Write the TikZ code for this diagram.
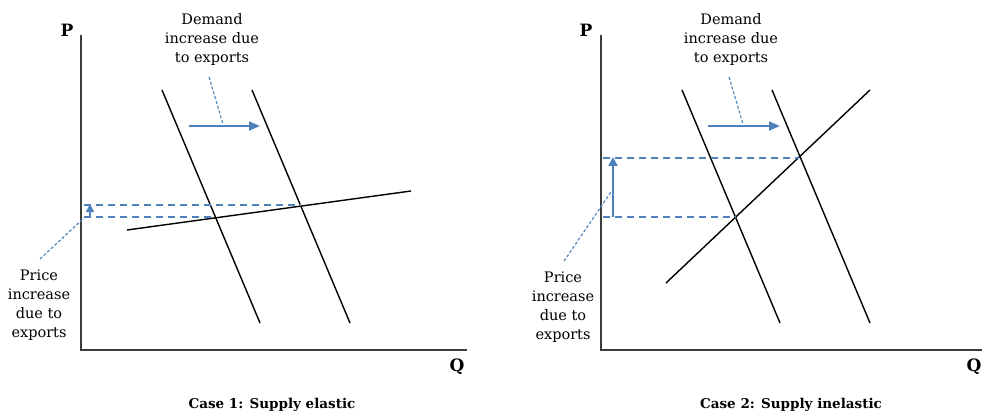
\documentclass[tikz,border=0pt]{standalone}
\usepackage{fontspec}
\setmainfont{DejaVu Serif}
\usetikzlibrary{arrows.meta}
\definecolor{xblue}{RGB}{79,129,189}
\definecolor{axisgray}{RGB}{60,60,60}
\tikzset{
  axisline/.style={draw=axisgray,line width=2.2pt},
  curve/.style={draw=black,line width=1.4pt},
  guide/.style={draw=xblue,line width=1.3pt,dash pattern=on 7pt off 5pt},
  leader/.style={draw=xblue,line width=1.1pt,dash pattern=on 3pt off 2pt},
  shiftarrow/.style={draw=xblue,line width=2.2pt,-{Triangle[length=11pt,width=9pt]}},
  lbl/.style={font=\fontsize{14.5pt}{19pt}\selectfont,align=center,inner sep=0pt},
  axlbl/.style={font=\fontsize{17pt}{20pt}\selectfont\bfseries,inner sep=0pt},
  captext/.style={font=\fontsize{13.5pt}{16pt}\selectfont\bfseries,inner sep=0pt}
}
\begin{document}
\begin{tikzpicture}[x=1pt,y=-1pt]
\useasboundingbox (0,0) rectangle (982,414);
% ---------- Case 1 ----------
\coordinate (O1) at (81,350);
\coordinate (Ptop1) at (81,35);
\coordinate (Qend1) at (467,350);
\draw[axisline] (Ptop1) -- (O1) -- (Qend1);
\node[axlbl] (P1) at (67,30) {P};
\node[axlbl] (Q1) at (457,367) {Q};
\coordinate (d1a) at (162,90); \coordinate (d1b) at (260,323);
\coordinate (d2a) at (252,90); \coordinate (d2b) at (350,323);
\coordinate (s1a) at (127,230); \coordinate (s1b) at (411,191);
\draw[curve] (d1a) -- (d1b);
\draw[curve] (d2a) -- (d2b);
\draw[curve] (s1a) -- (s1b);
\coordinate (e1hi) at (301,205); \coordinate (a1hi) at (84,205);
\coordinate (e1lo) at (215,217); \coordinate (a1lo) at (84,217);
\draw[guide] (a1hi) -- (e1hi);
\draw[guide] (a1lo) -- (e1lo);
\coordinate (ua1) at (90,217); \coordinate (ub1) at (90,204);
\draw[draw=xblue,line width=1.5pt,-{Triangle[length=8pt,width=8pt]}] (ua1) -- (ub1);
\coordinate (h1a) at (189,126); \coordinate (h1b) at (260,126);
\draw[shiftarrow] (h1a) -- (h1b);
\node[lbl] (dem1) at (212,40) {Demand\\increase due\\to exports};
\coordinate (dl1a) at (209,77); \coordinate (dl1b) at (223,124);
\draw[leader] (dl1a) -- (dl1b);
\node[lbl] (pri1) at (39,305) {Price\\increase\\due to\\exports};
\coordinate (pl1a) at (40,259); \coordinate (pl1b) at (85,217);
\draw[leader] (pl1a) -- (pl1b);
\node[captext] (cap1) at (272,405) {Case 1: Supply elastic};
% ---------- Case 2 ----------
\coordinate (O2) at (601,350);
\coordinate (Ptop2) at (601,35);
\coordinate (Qend2) at (982,350);
\draw[axisline] (Ptop2) -- (O2) -- (Qend2);
\node[axlbl] (P2) at (586,30) {P};
\node[axlbl] (Q2) at (974,367) {Q};
\coordinate (d3a) at (682,90); \coordinate (d3b) at (780,323);
\coordinate (d4a) at (772,90); \coordinate (d4b) at (870,323);
\coordinate (s2a) at (666,283); \coordinate (s2b) at (870,90);
\draw[curve] (d3a) -- (d3b);
\draw[curve] (d4a) -- (d4b);
\draw[curve] (s2a) -- (s2b);
\coordinate (e2hi) at (799,158); \coordinate (a2hi) at (603,158);
\coordinate (e2lo) at (736,217); \coordinate (a2lo) at (603,217);
\draw[guide] (a2hi) -- (e2hi);
\draw[guide] (a2lo) -- (e2lo);
\coordinate (ua2) at (613,217); \coordinate (ub2) at (613,157);
\draw[draw=xblue,line width=2.2pt,-{Triangle[length=9pt,width=9pt]}] (ua2) -- (ub2);
\coordinate (h2a) at (708,126); \coordinate (h2b) at (780,126);
\draw[shiftarrow] (h2a) -- (h2b);
\node[lbl] (dem2) at (731,40) {Demand\\increase due\\to exports};
\coordinate (dl2a) at (729,77); \coordinate (dl2b) at (743,124);
\draw[leader] (dl2a) -- (dl2b);
\node[lbl] (pri2) at (563,307) {Price\\increase\\due to\\exports};
\coordinate (pl2a) at (564,261); \coordinate (pl2b) at (611,192);
\draw[leader] (pl2a) -- (pl2b);
\node[captext] (cap2) at (791,405) {Case 2: Supply inelastic};
\end{tikzpicture}
\end{document}
